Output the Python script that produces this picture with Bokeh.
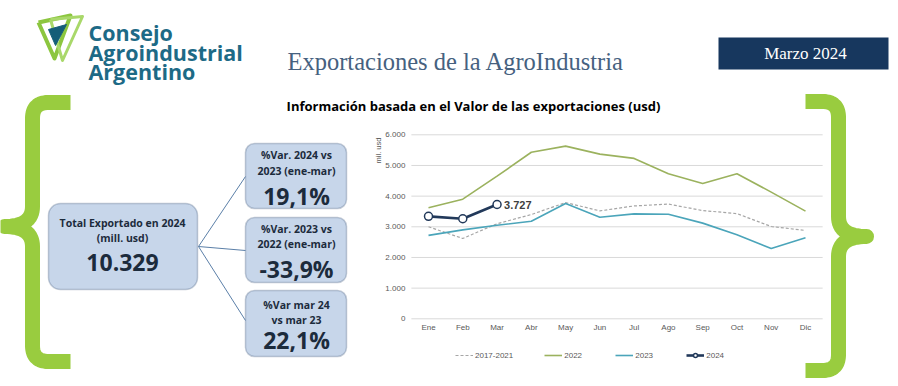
from bokeh.plotting import figure
from bokeh.models import Range1d, BoxAnnotation, Legend, LegendItem
from bokeh.core.properties import value
from bokeh.embed import file_html
from bokeh.resources import INLINE
import math

# ---------------- data ----------------
months = ["Ene", "Feb", "Mar", "Abr", "May", "Jun", "Jul", "Ago", "Sep", "Oct", "Nov", "Dic"]
prom_2017_2021 = [3000, 2620, 3100, 3400, 3790, 3520, 3680, 3740, 3530, 3430, 3010, 2880]
exp_2022 = [3620, 3900, 4650, 5430, 5630, 5370, 5230, 4730, 4410, 4730, 4130, 3510]
exp_2023 = [2720, 2900, 3052, 3180, 3760, 3310, 3420, 3410, 3120, 2740, 2290, 2640]
exp_2024 = [3340, 3262, 3727]
y_ticks = [0, 1000, 2000, 3000, 4000, 5000, 6000]
y_tick_labels = ["0", "1.000", "2.000", "3.000", "4.000", "5.000", "6.000"]
series_labels = ["2017-2021", "2022", "2023", "2024"]
last_label = "3.727"

total_title = ["Total Exportado en 2024", "(mill. usd)"]
total_value = "10.329"
kpi_titles = [["%Var. 2024 vs", "2023 (ene-mar)"], ["%Var. 2023 vs", "2022 (ene-mar)"], ["%Var mar 24", "vs mar 23"]]
kpi_values = ["19,1%", "-33,9%", "22,1%"]

# ---------------- styling ----------------
W, H = 898, 386
OFF = 0
GREEN = "#99CC3F"
BOX_FILL = "#C7D6EA"
BOX_LINE = "#41597A"
TXT_DARK = "#1C2B3C"
C_AVG = "#A6A6A6"
C_2022 = "#9BB25E"
C_2023 = "#4BA5BA"
C_2024 = "#22395A"
GRID = "#D9D9D9"
AX_TXT = "#595959"

p = figure(width=W, height=H, output_backend="svg", toolbar_location=None,
           x_range=Range1d(OFF, OFF + W), y_range=Range1d(OFF + H, OFF),
           x_axis_location=None, y_axis_location=None, min_border=0,
           outline_line_color=None, background_fill_color="white")
p.grid.visible = False

# chart area scales (month index / value) mapped onto the canvas
ENE_PX, DIC_PX = 428.0, 805.0
ZERO_PY, TOP_PY = 318.3, 134.3
step = (DIC_PX - ENE_PX) / (len(months) - 1)
per_unit = (ZERO_PY - TOP_PY) / y_ticks[-1]
p.extra_x_ranges = {"m": Range1d((OFF - ENE_PX) / step, (OFF + W - ENE_PX) / step)}
p.extra_y_ranges = {"v": Range1d((ZERO_PY - (OFF + H)) / per_unit, (ZERO_PY - OFF) / per_unit)}
XR = dict(x_range_name="m", y_range_name="v")

# ---------------- header ----------------
# logo
p.line([38, 70, 54, 38], [22, 15, 58, 22], line_color="#8CC63F", line_width=4, line_join="round")
p.line([50, 82, 62, 50], [19, 16, 60, 19], line_color="#A9D86A", line_width=3, line_join="round")
p.patch([48, 66, 55], [29, 24, 45], fill_color="#155E78", line_color="#155E78", line_width=1)
p.text(x=[88, 88, 88], y=[32, 52, 71], text=["Consejo", "Agroindustrial", "Argentino"],
       text_font=value("Open Sans"), text_font_style="bold", text_font_size="21.5px",
       text_color="#1D6A86", text_baseline="alphabetic", text_align="left")

p.text(x=[287], y=[61], text=["Exportaciones de la AgroIndustria"],
       text_font=value("Liberation Serif"), text_font_size="24.5px", text_color="#46617F",
       text_baseline="alphabetic", text_align="left")

p.quad(left=[718], right=[888], top=[37], bottom=[69], fill_color="#17375E", line_color=None)
p.text(x=[805], y=[53], text=["Marzo 2024"], text_font=value("Liberation Serif"),
       text_font_size="17px", text_color="white", text_align="center", text_baseline="middle")

p.text(x=[473], y=[105], text=["Información basada en el Valor de las exportaciones (usd)"],
       text_font=value("Open Sans"), text_font_style="bold", text_font_size="13px",
       text_color="black", text_align="center", text_baseline="middle")

# ---------------- braces ----------------
def qbez(p0, p1, p2, n=16):
    pts = []
    for i in range(n + 1):
        t = i / n
        x = (1 - t) ** 2 * p0[0] + 2 * (1 - t) * t * p1[0] + t ** 2 * p2[0]
        y = (1 - t) ** 2 * p0[1] + 2 * (1 - t) * t * p1[1] + t ** 2 * p2[1]
        pts.append((x, y))
    return pts

def brace(end_x, mid_x, tip_x, top, bot, tip_y, d):
    pts = [(end_x, top)]
    pts += qbez((mid_x + d, top), (mid_x, top), (mid_x, top + 16))
    pts += qbez((mid_x, tip_y - 20), (mid_x, tip_y), (tip_x, tip_y))
    pts += qbez((tip_x, tip_y), (mid_x, tip_y), (mid_x, tip_y + 20))
    pts += qbez((mid_x, bot - 16), (mid_x, bot), (mid_x + d, bot))
    pts.append((end_x, bot))
    return [q[0] for q in pts], [q[1] for q in pts]

bx, by = brace(70, 32, 4, 102, 361, 226, 16)
p.line(bx, by, line_color=GREEN, line_width=15, line_join="round")
bx, by = brace(805, 838, 866, 101, 370, 236, -16)
p.line(bx, by, line_color=GREEN, line_width=15, line_join="round")

# ---------------- KPI boxes ----------------
p.add_layout(BoxAnnotation(left=48, right=197, top=203, bottom=289, fill_color=BOX_FILL,
                           fill_alpha=1, line_color=BOX_LINE, line_width=1.5,
                           border_radius=12, level="underlay"))
for (t, b) in [(143, 208), (217, 282), (290, 356)]:
    p.add_layout(BoxAnnotation(left=245, right=346, top=t, bottom=b, fill_color=BOX_FILL,
                               fill_alpha=1, line_color=BOX_LINE, line_width=1.5,
                               border_radius=9, level="underlay"))

p.segment(x0=[198, 198, 198], y0=[246, 246, 246], x1=[245, 245, 245], y1=[176, 250, 320],
          line_color="#5B7FA8", line_width=1)

small = dict(text_font=value("Open Sans"), text_font_style="bold", text_font_size="10.5px",
             text_color=TXT_DARK, text_align="center", text_baseline="middle")
big = dict(text_font=value("Open Sans"), text_font_style="bold", text_font_size="23px",
           text_color=TXT_DARK, text_align="center", text_baseline="middle")

p.text(x=[122, 122], y=[222, 237], text=total_title, **small)
p.text(x=[122], y=[262], text=[total_value], **big)
kx, ky, kt = [], [], []
for lines, (y1, y2) in zip(kpi_titles, [(154, 170), (228, 243), (304, 319)]):
    kx += [296, 296]; ky += [y1, y2]; kt += lines
p.text(x=kx, y=ky, text=kt, **small)
p.text(x=[296, 296, 296], y=[195, 268, 339], text=kpi_values, **big)

# ---------------- line chart ----------------
xi = list(range(len(months)))
p.segment(x0=[-0.5] * len(y_ticks), x1=[11.5] * len(y_ticks), y0=y_ticks, y1=y_ticks,
          line_color=GRID, line_width=1, **XR)
p.text(x=[-0.5] * len(y_ticks), y=y_ticks, text=y_tick_labels, x_offset=-6,
       text_font=value("Liberation Sans"), text_font_size="8px", text_color=AX_TXT,
       text_align="right", text_baseline="middle", **XR)
p.text(x=xi, y=[0] * len(months), text=months, y_offset=9,
       text_font=value("Liberation Sans"), text_font_size="8px", text_color=AX_TXT,
       text_align="center", text_baseline="middle", **XR)
p.text(x=[378], y=[150], text=["mil. usd"], angle=math.pi / 2,
       text_font=value("Liberation Sans"), text_font_size="7.5px", text_color=AX_TXT,
       text_align="center", text_baseline="middle")

r_avg = p.line(xi, prom_2017_2021, line_color=C_AVG, line_width=1.2, line_dash="3 2", **XR)
r_22 = p.line(xi, exp_2022, line_color=C_2022, line_width=1.6, **XR)
r_23 = p.line(xi, exp_2023, line_color=C_2023, line_width=1.6, **XR)
x24 = xi[:len(exp_2024)]
r_24 = p.line(x24, exp_2024, line_color=C_2024, line_width=2.6, **XR)
r_24m = p.scatter(x24, exp_2024, size=8, fill_color="white", line_color=C_2024,
                  line_width=1.5, **XR)
p.text(x=[x24[-1]], y=[exp_2024[-1]], text=[last_label], x_offset=7,
       text_font=value("Liberation Sans"), text_font_style="bold", text_font_size="11px",
       text_color="#404040", text_align="left", text_baseline="middle", **XR)

legend = Legend(items=[LegendItem(label=series_labels[0], renderers=[r_avg]),
                       LegendItem(label=series_labels[1], renderers=[r_22]),
                       LegendItem(label=series_labels[2], renderers=[r_23]),
                       LegendItem(label=series_labels[3], renderers=[r_24, r_24m])],
                location=(455, 26), orientation="horizontal", glyph_width=18,
                glyph_height=10, label_height=10, label_standoff=2, spacing=31,
                padding=0, margin=0, background_fill_alpha=0, border_line_alpha=0,
                label_text_font_size="8px", label_text_color=AX_TXT,
                label_text_font="Liberation Sans")
p.add_layout(legend)

open("out.html", "w").write(file_html(p, INLINE))
